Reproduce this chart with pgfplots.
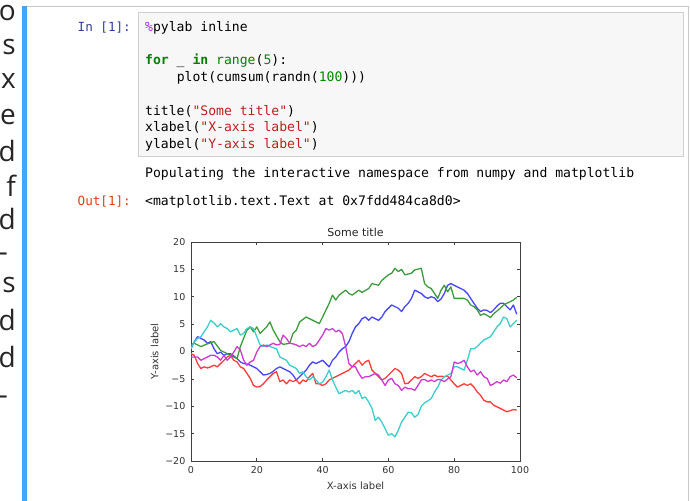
\documentclass[border=0pt]{standalone}
\usepackage{fontspec}
\usepackage{pgfplots}
\pgfplotsset{compat=1.18}
\setmainfont{DejaVu Sans}
\newfontfamily\codefont{DejaVu Sans Mono}
\newfontfamily\blogfont{Open Sans}
\definecolor{mplb}{RGB}{70,70,255}
\definecolor{mplg}{RGB}{60,155,60}
\definecolor{mplr}{RGB}{255,60,60}
\definecolor{mplc}{RGB}{60,205,205}
\definecolor{mplm}{RGB}{205,60,205}
\definecolor{nbblue}{RGB}{66,165,245}
\definecolor{cellborder}{RGB}{200,200,200}
\definecolor{codebg}{RGB}{247,247,247}
\definecolor{codeborder}{RGB}{207,207,207}
\definecolor{inprompt}{HTML}{303F9F}
\definecolor{outprompt}{HTML}{D84315}
\definecolor{kwgreen}{HTML}{008000}
\definecolor{numgreen}{HTML}{008800}
\definecolor{strred}{HTML}{BA2121}
\definecolor{magic}{HTML}{AA22FF}
\newcommand{\code}{\codefont\fontsize{13.1bp}{15bp}\selectfont}
\newcommand{\prompt}{\codefont\fontsize{12.6bp}{15bp}\selectfont}
\newcommand{\blog}{\blogfont\fontsize{28bp}{34bp}\selectfont}
\begin{document}
\begin{tikzpicture}[x=1bp,y=-1bp]
\path[use as bounding box, fill=white] (0,0) rectangle (690,501);
% blog text fragments at left
\foreach \ch/\yy in {o/20.5, s/55, x/88.5, e/125, d/162, f/196.5, d/230, s/292, d/330, d/367}
  {\node[anchor=base east, inner sep=0pt, text=black!85] at (16,\yy) {\blog \ch};}
\node[anchor=base east, inner sep=0pt, text=black!85] at (8,262) {\blog -};
\node[anchor=base east, inner sep=0pt, text=black!85] at (8,404) {\blog -};
% notebook cell
\draw[cellborder, line width=1bp] (22,6.5) -- (688.5,6.5) -- (688.5,505);
\fill[nbblue] (22,6) rectangle (26.5,505);
\filldraw[fill=codebg, draw=codeborder, line width=0.8bp] (138,12.5) rectangle (683,156.5);
\node[anchor=base east, inner sep=0pt, text=inprompt] at (131,31.4) {\prompt In [1]:};
\node[anchor=base west, inner sep=0pt] at (145,31.4) {\code\textcolor{magic}{\%}pylab inline};
\node[anchor=base west, inner sep=0pt] at (145,65) {\code{\bfseries\color{kwgreen}for} \_ {\bfseries\color{kwgreen}in} \textcolor{kwgreen}{range}(\textcolor{numgreen}{5}):};
\node[anchor=base west, inner sep=0pt] at (176.6,81.8) {\code plot(cumsum(randn(\textcolor{numgreen}{100})))};
\node[anchor=base west, inner sep=0pt] at (145,115.2) {\code title(\textcolor{strred}{"Some title"})};
\node[anchor=base west, inner sep=0pt] at (145,132) {\code xlabel(\textcolor{strred}{"X-axis label"})};
\node[anchor=base west, inner sep=0pt] at (145,148.8) {\code ylabel(\textcolor{strred}{"Y-axis label"})};
\node[anchor=base west, inner sep=0pt] at (145,178) {\code Populating the interactive namespace from numpy and matplotlib};
\node[anchor=base east, inner sep=0pt, text=outprompt] at (131,206) {\prompt Out[1]:};
\node[anchor=base west, inner sep=0pt] at (145,206) {\code <matplotlib.text.Text at 0x7fdd484ca8d0>};
% chart
\begin{axis}[
  at={(191bp,-461bp)}, anchor=south west,
  scale only axis, width=329bp, height=219bp,
  xmin=0, xmax=100, ymin=-20, ymax=20,
  xtick={0,20,40,60,80,100}, xticklabels={0,20,40,60,80,100},
  ytick={-20,-15,-10,-5,0,5,10,15,20},
  yticklabels={−20,−15,−10,−5,0,5,10,15,20},
  tick align=inside, major tick length=3bp,
  tick style={color=black!75, line width=0.7bp},
  axis line style={black!75, line width=0.9bp},
  ticklabel style={font=\fontsize{9.5bp}{11bp}\selectfont, text=black!80, inner sep=0pt},
  xticklabel style={anchor=north, yshift=-5bp},
  yticklabel style={anchor=east, xshift=-5.5bp},
  every axis title shift=0pt,
  title={Some title},
  title style={at={(axis description cs:0.5,1.0251)}, anchor=base, yshift=0pt, inner sep=0pt, font=\fontsize{11bp}{13bp}\selectfont, text=black!85},
  xlabel={X-axis label},
  xlabel style={at={(axis description cs:0.5,-0.1279)}, anchor=base, inner sep=0pt, font=\fontsize{10bp}{12bp}\selectfont, text=black!80},
  ylabel={Y-axis label},
  ylabel style={at={(axis description cs:-0.0994,0.5)}, anchor=base, inner sep=0pt, font=\fontsize{10bp}{12bp}\selectfont, text=black!80},
  every axis plot/.append style={line width=1.3bp, line join=round, mark=none},
]
\addplot[mplb] coordinates {(0,0.5)(1,1.8)(2,2.7)(3,2.4)(4,2.1)(5,1.5)(6,1.8)(7,0.5)(8,-0.4)(9,-0.1)(10,-0.7)(11,-0.4)(12,-0.4)(13,-0.8)(14,-1.3)(15,-1.9)(16,-2.2)(17,-2.3)(18,-2.5)(19,-2.8)(20,-3.1)(21,-3.7)(22,-4.3)(23,-4.2)(24,-4.0)(25,-3.6)(26,-3.1)(27,-2.8)(28,-3.1)(29,-3.4)(30,-3.7)(31,-4.3)(32,-5.2)(33,-4.6)(34,-4.0)(35,-3.4)(36,-2.5)(37,-1.9)(38,-2.2)(39,-1.9)(40,-1.6)(41,-2.2)(42,-2.8)(43,-1.6)(44,-1.0)(45,-0.1)(46,0.5)(47,0.9)(48,1.8)(49,3.3)(50,4.5)(51,5.1)(52,6.0)(53,6.3)(54,5.7)(55,6.3)(56,6.0)(57,5.7)(58,6.3)(59,7.3)(60,7.9)(61,8.5)(62,8.2)(63,7.9)(64,7.3)(65,8.2)(66,8.8)(67,9.7)(68,11.2)(69,10.9)(70,10.6)(71,10.0)(72,9.7)(73,10.0)(74,9.8)(75,9.1)(76,9.6)(77,10.6)(78,12.1)(79,12.4)(80,12.1)(81,11.8)(82,11.5)(83,11.2)(84,10.6)(85,9.7)(86,8.8)(87,7.9)(88,7.3)(89,7.6)(90,7.5)(91,7.1)(92,7.6)(93,8.3)(94,8.8)(95,8.8)(96,8.2)(97,7.6)(98,8.5)(99,6.8)};
\addplot[mplg] coordinates {(0,1.2)(1,1.5)(3,0.9)(5,1.4)(7,1.8)(9,0.2)(11,-0.4)(13,-1.0)(14,-1.3)(15,0.9)(17,3.9)(18,4.5)(19,3.6)(20,4.5)(21,3.3)(23,4.5)(24,5.4)(25,3.9)(27,1.8)(28,1.3)(30,1.5)(31,3.3)(32,3.9)(33,5.4)(35,6.3)(37,5.7)(39,5.1)(40,6.3)(42,8.8)(43,10.3)(44,9.4)(45,10.3)(47,11.2)(48,10.6)(49,10.3)(51,11.2)(52,10.8)(54,11.5)(55,12.4)(57,12.1)(58,13.0)(60,14.0)(61,14.3)(62,15.2)(63,14.6)(64,15.0)(65,14.0)(67,14.3)(68,14.9)(70,15.2)(71,12.4)(72,11.8)(73,11.5)(74,10.6)(75,9.7)(76,11.2)(77,12.1)(78,10.9)(79,11.8)(80,9.7)(81,9.7)(83,9.7)(84,9.4)(85,8.5)(86,8.2)(87,7.6)(88,6.6)(89,6.9)(90,6.6)(91,6.2)(92,6.9)(94,7.9)(95,8.5)(97,9.1)(98,9.4)(99,9.9)};
\addplot[mplr] coordinates {(0,-0.4)(1,-0.7)(2,-2.2)(3,-3.1)(4,-2.8)(5,-3.0)(6,-2.8)(7,-2.5)(8,-2.8)(9,-2.2)(10,-1.6)(11,-1.0)(12,-0.7)(13,-1.6)(14,-1.9)(15,-2.8)(16,-3.1)(17,-4.0)(18,-4.9)(19,-6.2)(20,-6.5)(21,-6.4)(22,-5.9)(23,-5.2)(24,-4.6)(25,-4.0)(26,-3.7)(27,-5.5)(28,-5.2)(29,-5.9)(30,-5.2)(31,-5.5)(32,-5.2)(33,-5.9)(34,-5.2)(35,-5.5)(36,-4.6)(37,-4.0)(38,-5.9)(39,-5.9)(40,-6.2)(41,-5.9)(42,-5.2)(43,-4.9)(44,-4.6)(45,-4.3)(46,-4.0)(47,-3.7)(48,-3.4)(49,-2.8)(50,-2.2)(51,-1.6)(52,-2.5)(53,-1.9)(54,-1.6)(55,-3.4)(56,-4.0)(57,-4.6)(58,-5.2)(59,-4.9)(60,-4.3)(61,-3.7)(62,-3.1)(63,-3.4)(64,-4.0)(65,-5.9)(66,-5.8)(67,-5.2)(68,-4.6)(69,-4.9)(70,-4.6)(71,-4.0)(72,-4.3)(73,-4.6)(74,-4.3)(75,-4.6)(76,-4.5)(77,-4.6)(78,-4.5)(79,-5.2)(80,-5.9)(81,-6.5)(82,-6.2)(83,-5.9)(84,-6.2)(85,-5.9)(86,-6.5)(87,-7.4)(88,-8.0)(89,-8.9)(90,-9.2)(91,-9.2)(92,-9.8)(93,-10.1)(94,-10.4)(95,-10.7)(96,-11.0)(97,-10.8)(98,-10.6)(99,-10.7)};
\addplot[mplc] coordinates {(0,0.5)(1,1.8)(2,2.4)(3,2.7)(4,3.6)(5,4.5)(6,5.7)(7,5.2)(8,4.5)(9,5.1)(10,4.5)(11,4.2)(12,3.6)(13,3.9)(14,4.2)(15,3.0)(16,3.3)(17,4.2)(18,4.5)(19,4.2)(20,2.7)(21,1.2)(22,0.9)(23,1.2)(24,0.9)(26,0.5)(27,-1.0)(29,-1.6)(30,-2.5)(32,-3.1)(33,-4.0)(34,-3.7)(35,-4.6)(36,-5.2)(37,-4.6)(38,-5.2)(39,-5.9)(40,-5.6)(41,-4.6)(42,-3.4)(43,-5.2)(44,-6.5)(45,-7.7)(46,-7.4)(47,-7.1)(48,-7.4)(49,-7.1)(50,-7.7)(51,-7.1)(52,-8.6)(53,-8.3)(54,-9.2)(55,-10.4)(56,-12.6)(57,-12.0)(58,-12.9)(59,-14.1)(60,-15.3)(61,-15.0)(62,-15.6)(63,-14.4)(64,-12.9)(65,-12.0)(66,-11.1)(67,-11.2)(68,-12.0)(69,-11.5)(70,-10.0)(71,-9.4)(72,-9.0)(73,-8.6)(74,-7.4)(75,-6.5)(76,-5.2)(77,-4.6)(78,-4.3)(79,-4.0)(80,-2.8)(81,-2.8)(82,-3.1)(83,-3.4)(84,-1.6)(85,0.5)(86,0.5)(87,0.9)(88,1.5)(89,2.1)(90,2.4)(91,2.7)(92,3.6)(93,4.5)(94,5.1)(95,6.3)(96,6.0)(97,4.5)(98,5.1)(99,5.7)};
\addplot[mplm] coordinates {(0,-1.0)(1,-1.0)(2,-1.0)(3,-1.6)(4,-1.3)(5,-1.0)(6,-0.7)(7,-0.7)(8,-1.0)(9,-1.6)(10,-0.7)(11,-1.6)(12,-1.0)(13,-0.1)(14,0.9)(15,0.3)(16,-1.6)(17,-2.5)(18,-1.9)(19,-1.6)(20,-0.1)(21,0.9)(22,1.2)(23,0.9)(24,1.2)(25,1.5)(26,1.2)(27,1.3)(28,3.0)(29,2.4)(30,1.5)(31,1.4)(32,1.2)(33,0.9)(34,1.2)(35,0.9)(36,1.5)(37,0.9)(38,1.2)(39,2.1)(40,3.0)(41,4.2)(42,3.9)(43,4.2)(44,3.6)(45,3.9)(46,3.3)(47,0.9)(48,-2.2)(49,-2.8)(50,-2.8)(51,-4.0)(52,-4.9)(53,-4.6)(54,-4.6)(55,-4.3)(56,-4.0)(57,-4.3)(58,-5.2)(59,-6.2)(60,-5.2)(61,-4.9)(62,-5.9)(63,-6.2)(64,-7.1)(65,-6.5)(66,-6.8)(67,-6.8)(68,-7.1)(69,-6.2)(70,-5.2)(71,-5.1)(72,-5.5)(73,-5.2)(74,-5.5)(75,-5.1)(76,-5.2)(77,-5.5)(78,-5.0)(79,-4.6)(80,-1.9)(81,-2.2)(82,-2.0)(83,-1.6)(84,-2.8)(85,-3.7)(86,-3.4)(87,-4.3)(88,-3.7)(89,-4.6)(90,-4.9)(91,-6.2)(92,-5.9)(93,-5.5)(94,-5.8)(95,-5.2)(96,-5.5)(97,-4.6)(98,-4.3)(99,-4.8)};
\end{axis}
\end{tikzpicture}
\end{document}
